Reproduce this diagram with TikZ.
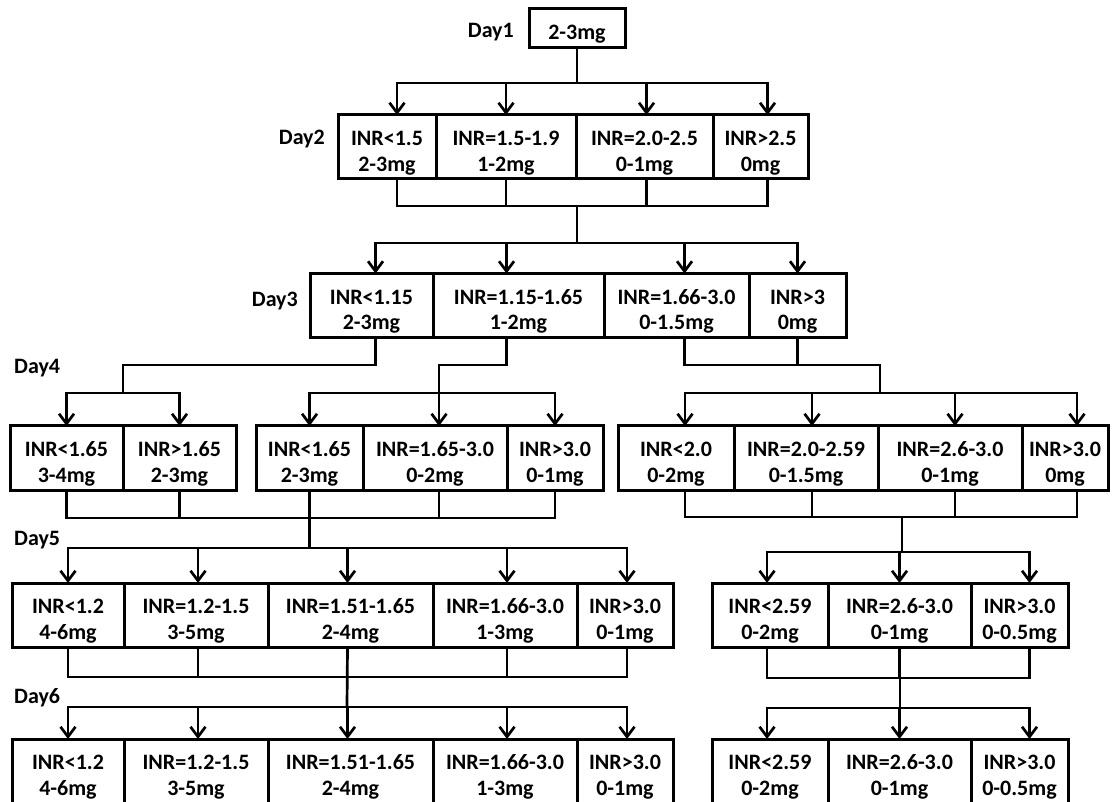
\documentclass[tikz,border=0pt]{standalone}
\usepackage{fontspec}
\setmainfont{Carlito}
\usetikzlibrary{arrows.meta,positioning}

\begin{document}
\begin{tikzpicture}[
    x=1pt, y=-1pt,
    font=\fontsize{22}{25.5}\selectfont\bfseries,
    node distance=0pt,
    cell/.style={draw, line width=3pt, outer sep=0pt, inner sep=2pt, align=center, minimum height=64pt,
        text height=52pt},
    daylbl/.style={inner sep=0pt},
    wire/.style={line width=2.7pt},
    line/.style={wire, -{Straight Barb[length=10pt,width=15pt]}}
]
\useasboundingbox (0,0) rectangle (1112,802);

% day labels
\node[daylbl, anchor=east] (l1) at (514,32) {Day1};
\node[daylbl, anchor=east] (l2) at (325,139) {Day2};
\node[daylbl, anchor=east] (l3) at (298,301) {Day3};
\node[daylbl, anchor=west] (l4) at (14,368.5) {Day4};
\node[daylbl, anchor=west] (l5) at (14,540.5) {Day5};
\node[daylbl, anchor=west] (l6) at (14,698) {Day6};

% day 1
\node[cell, minimum width=96pt, minimum height=39pt, text height=25pt] (d1) at (577,28.5) {2-3mg};

% day 2
\node[cell, minimum width=98pt, anchor=west] (d2a) at (338,147) {INR<1.5\\2-3mg};
\node[cell, minimum width=140pt, right=of d2a] (d2b) {INR=1.5-1.9\\1-2mg};
\node[cell, minimum width=137pt, right=of d2b] (d2c) {INR=2.0-2.5\\0-1mg};
\node[cell, minimum width=95pt, right=of d2c] (d2d) {INR>2.5\\0mg};

% day 3
\node[cell, minimum width=123pt, anchor=west] (d3a) at (310,305.5) {INR<1.15\\2-3mg};
\node[cell, minimum width=171pt, right=of d3a] (d3b) {INR=1.15-1.65\\1-2mg};
\node[cell, minimum width=145pt, right=of d3b] (d3c) {INR=1.66-3.0\\0-1.5mg};
\node[cell, minimum width=97pt, right=of d3c] (d3d) {INR>3\\0mg};

% day 4
\node[cell, minimum width=113pt, anchor=west] (d4a) at (10,458) {INR<1.65\\3-4mg};
\node[cell, minimum width=113pt, right=of d4a] (d4b) {INR>1.65\\2-3mg};
\node[cell, minimum width=107pt, anchor=west] (d4c) at (256,458) {INR<1.65\\2-3mg};
\node[cell, minimum width=144pt, right=of d4c] (d4d) {INR=1.65-3.0\\0-2mg};
\node[cell, minimum width=96pt, right=of d4d] (d4e) {INR>3.0\\0-1mg};
\node[cell, minimum width=116pt, anchor=west] (d4f) at (618,458) {INR<2.0\\0-2mg};
\node[cell, minimum width=144pt, right=of d4f] (d4g) {INR=2.0-2.59\\0-1.5mg};
\node[cell, minimum width=144pt, right=of d4g] (d4h) {INR=2.6-3.0\\0-1mg};
\node[cell, minimum width=86pt, right=of d4h] (d4i) {INR>3.0\\0mg};

% day 5
\node[cell, minimum width=112pt, anchor=west] (d5a) at (12,615) {INR<1.2\\4-6mg};
\node[cell, minimum width=144pt, right=of d5a] (d5b) {INR=1.2-1.5\\3-5mg};
\node[cell, minimum width=165pt, right=of d5b] (d5c) {INR=1.51-1.65\\2-4mg};
\node[cell, minimum width=144pt, right=of d5c] (d5d) {INR=1.66-3.0\\1-3mg};
\node[cell, minimum width=96pt, right=of d5d] (d5e) {INR>3.0\\0-1mg};
\node[cell, minimum width=116pt, anchor=west] (d5f) at (712,615) {INR<2.59\\0-2mg};
\node[cell, minimum width=143pt, right=of d5f] (d5g) {INR=2.6-3.0\\0-1mg};
\node[cell, minimum width=97pt, right=of d5g] (d5h) {INR>3.0\\0-0.5mg};

% day 6
\node[cell, minimum width=112pt, anchor=west] (d6a) at (12,771) {INR<1.2\\4-6mg};
\node[cell, minimum width=144pt, right=of d6a] (d6b) {INR=1.2-1.5\\3-5mg};
\node[cell, minimum width=165pt, right=of d6b] (d6c) {INR=1.51-1.65\\2-4mg};
\node[cell, minimum width=144pt, right=of d6c] (d6d) {INR=1.66-3.0\\1-3mg};
\node[cell, minimum width=96pt, right=of d6d] (d6e) {INR>3.0\\0-1mg};
\node[cell, minimum width=116pt, anchor=west] (d6f) at (712,771) {INR<2.59\\0-2mg};
\node[cell, minimum width=143pt, right=of d6f] (d6g) {INR=2.6-3.0\\0-1mg};
\node[cell, minimum width=97pt, right=of d6g] (d6h) {INR>3.0\\0-0.5mg};

% day1 -> day2
\coordinate[below=35pt of d1] (k1);
\draw[wire] (d1) -- (k1);
\draw[line] (k1) -| ([xshift=10pt]d2a.north);
\draw[line] (k1) -| (d2b.north);
\draw[line] (k1) -| ([xshift=2pt]d2c.north);
\draw[line] (k1) -| ([xshift=7pt]d2d.north);

% day2 -> day3
\coordinate (j2) at (577,206);
\coordinate[below=37pt of j2] (k2);
\draw[wire] ([xshift=10pt]d2a.south) |- (j2);
\draw[wire] (d2b.south) |- (j2);
\draw[wire] ([xshift=2pt]d2c.south) |- (j2);
\draw[wire] ([xshift=7pt]d2d.south) |- (j2);
\draw[wire] (j2) -- (k2);
\draw[line] (k2) -| ([xshift=4pt]d3a.north);
\draw[line] (k2) -| ([xshift=-12pt]d3b.north);
\draw[line] (k2) -| ([xshift=8pt]d3c.north);
\draw[line] (k2) -| (d3d.north);

% day3 -> day4, left
\coordinate (j3a) at (123,365);
\coordinate[below=28pt of j3a] (k3a);
\draw[wire] ([xshift=4pt]d3a.south) |- (j3a) -- (k3a);
\draw[line] (k3a) -| (d4a.north);
\draw[line] (k3a) -| (d4b.north);

% day3 -> day4, middle
\coordinate (j3b) at (439,365);
\coordinate[below=28pt of j3b] (k3b);
\draw[wire] ([xshift=-12pt]d3b.south) |- (j3b) -- (k3b);
\draw[line] (k3b) -| (d4c.north);
\draw[line] (k3b) -| ([xshift=4pt]d4d.north);
\draw[line] (k3b) -| (d4e.north);

% day3 -> day4, right
\coordinate (j3c) at (880,365);
\coordinate[below=28pt of j3c] (k3c);
\draw[wire] ([xshift=8pt]d3c.south) |- (j3c) -- (k3c);
\draw[wire] (d3d.south) -- (d3d.south |- j3c);
\draw[line] (k3c) -| ([xshift=9pt]d4f.north);
\draw[line] (k3c) -| ([xshift=6pt]d4g.north);
\draw[line] (k3c) -| ([xshift=5pt]d4h.north);
\draw[line] (k3c) -| ([xshift=12pt]d4i.north);

% day4 -> day5, left
\coordinate[below=28pt of d4c] (j4);
\coordinate[below=30pt of j4] (k4);
\draw[wire] (d4a.south) |- (j4);
\draw[wire] (d4b.south) |- (j4);
\draw[wire] (d4c) -- (k4);
\draw[wire] ([xshift=4pt]d4d.south) |- (j4);
\draw[wire] (d4e.south) |- (j4);
\draw[line] (k4) -| (d5a.north);
\draw[line] (k4) -| ([xshift=2pt]d5b.north);
\draw[line] (k4) -| ([xshift=-3pt]d5c.north);
\draw[line] (k4) -| ([xshift=2pt]d5d.north);
\draw[line] (k4) -| ([xshift=2pt]d5e.north);

% day4 -> day5, right
\coordinate (j4r) at (902,517);
\coordinate[below=35pt of j4r] (k4r);
\draw[wire] ([xshift=9pt]d4f.south) |- (j4r);
\draw[wire] ([xshift=6pt]d4g.south) |- (j4r);
\draw[wire] ([xshift=5pt]d4h.south) |- (j4r);
\draw[wire] ([xshift=12pt]d4i.south) |- (j4r);
\draw[wire] (j4r) -- (k4r);
\draw[line] (k4r) -| ([xshift=-3pt]d5f.north);
\draw[line] (k4r) -| (d5g.north);
\draw[line] (k4r) -| ([xshift=10pt]d5h.north);

% day5 -> day6, left
\coordinate (j5) at (347,677);
\coordinate[below=30pt of j5] (k5);
\draw[wire] (d5a.south) |- (j5);
\draw[wire] ([xshift=2pt]d5b.south) |- (j5);
\draw[wire] ([xshift=-3pt]d5c.south) -- (k5);
\draw[wire] ([xshift=2pt]d5d.south) |- (j5);
\draw[wire] ([xshift=2pt]d5e.south) |- (j5);
\draw[line] (k5) -| (d6a.north);
\draw[line] (k5) -| ([xshift=2pt]d6b.north);
\draw[line] (k5) -| ([xshift=-3pt]d6c.north);
\draw[line] (k5) -| ([xshift=2pt]d6d.north);
\draw[line] (k5) -| ([xshift=2pt]d6e.north);

% day5 -> day6, right
\coordinate (j5r) at (900,678);
\coordinate[below=30pt of j5r] (k5r);
\draw[wire] ([xshift=-3pt]d5f.south) |- (j5r);
\draw[wire] (d5g.south) |- (j5r);
\draw[wire] ([xshift=10pt]d5h.south) |- (j5r);
\draw[wire] (j5r) -- (k5r);
\draw[line] (k5r) -| ([xshift=-3pt]d6f.north);
\draw[line] (k5r) -| (d6g.north);
\draw[line] (k5r) -| ([xshift=10pt]d6h.north);
\end{tikzpicture}
\end{document}
